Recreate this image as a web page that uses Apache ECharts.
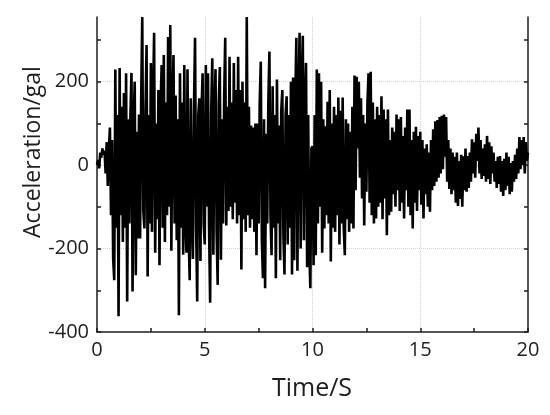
<!DOCTYPE html>
<html>
<head>
<meta charset="utf-8">
<script src="https://cdn.jsdelivr.net/npm/echarts@6/dist/echarts.min.js"></script>
<style>
html,body{margin:0;padding:0;background:#fff;}
#chart{width:550px;height:415px;}
</style>
</head>
<body>
<div id="chart"></div>
<script>
// Sampling step of the record (s)
var dt = 0.05;
// Acceleration (gal), one row per second
var accel_00_05 = [
  0, 12, -8, 30, 18, 40, 25, 35, -20, 55, -50, 40, 90, -120, 60, -224, -276, 229, -150, 120,
  -362, 233, -120, 140, -184, 173, -150, 220, -327, 110, -140, 121, 221, -303, 100, 200, -264, 80, -176, 121,
  -176, 160, 355, -110, -152, 130, 288, -267, 120, -140, 245, -160, 150, 317, -210, 100, -130, 180, -240, 140,
  240, -150, 264, -184, 150, -120, 307, -100, 336, -205, 130, 264, -140, 167, -180, 110, -360, 220, -150, 150,
  -215, 240, -130, -210, 230, -160, -276, 160, -120, -225, 140, 305, -150, -327, 120, 160, -230, 130, 220, -140
];
var accel_05_10 = [
  -190, 240, -100, 220, -150, -330, 130, 256, -215, 120, 230, -160, -287, 150, 235, -227, 110, -140, 160, 305,
  -145, 140, -110, 260, -100, 150, -130, 245, -90, 180, -140, 260, -120, 180, -250, 200, -130, 150, -160, 355,
  -120, 140, -150, 95, -130, 90, -160, 100, -216, 100, -140, 150, 248, -180, -271, 110, -295, 75, -140, 150,
  272, -120, -216, 189, -150, 120, -271, 205, -140, 95, -228, 130, 180, -170, -262, 120, 165, -190, 120, -150,
  200, -262, 210, -228, 150, 305, -253, 140, 317, -200, 200, 310, -180, 150, 245, -245, 120, -200, -295, 40
];
var accel_10_15 = [
  45, -240, 120, -216, 229, -140, 220, -100, 200, -210, 110, -152, 93, -120, 152, -140, 180, -231, 100, -150,
  140, -160, 120, -120, 162, -190, 130, -140, 162, -150, -216, 110, -130, 100, -160, 80, -140, 140, -152, 215,
  -60, 212, 40, 200, -30, 160, -80, 120, -145, 100, -64, 150, 220, -90, 224, -120, 150, -140, 110, -128,
  140, -100, 120, -90, 165, -130, 133, -80, 110, -168, 133, -120, 60, -112, 90, -70, 80, -100, 121, -60,
  110, -110, 115, -90, 70, -128, 90, -60, 133, -100, 133, -120, 60, -152, 80, -90, 92, -110, 70, -60
];
var accel_15_20 = [
  80, -95, 60, -128, 40, -70, 50, -100, 30, -112, 60, -60, 86, -50, 105, -40, 108, -30, 115, -20,
  118, -10, 121, 20, 115, -40, 60, -57, 40, -70, 30, -60, 20, -90, 30, -98, 10, -81, 25, -100,
  21, -60, 40, -64, 22, -55, 30, -40, 62, -20, 55, -30, 75, 10, 90, -20, 60, -33, 40, -26,
  50, -40, 70, -33, 55, -45, 45, -20, 30, -40, 10, -55, 20, -45, 22, -64, 10, -74, 15, -60,
  30, -50, 20, -70, 5, -64, 10, -40, 25, -33, 40, -20, 67, -10, 60, 0, 67, -20, 55, 10,
  30
];
// Axis ticks and labels
var yTicks = [-400, -300, -200, -100, 0, 100, 200, 300];
var yLabels = [-400, -200, 0, 200];
var xLabels = [0, 5, 10, 15, 20];

var accel = accel_00_05.concat(accel_05_10, accel_10_15, accel_15_20);
var seriesData = accel.map(function (v, i) { return [Math.round(i * dt * 100) / 100, v]; });

var font = 'Open Sans';
var ink = '#1e1e1e';
var gridStyle = {type: 'dotted', color: '#d2d2d2', width: 1};
var chart = echarts.init(document.getElementById('chart'), null, {renderer: 'canvas'});
chart.setOption({
  animation: false,
  backgroundColor: '#ffffff',
  grid: {left: 97, right: 22, top: 17, bottom: 83},
  xAxis: [
    {
      type: 'value', min: 0, max: 20, interval: 2.5, position: 'bottom',
      axisLine: {show: true, onZero: false, lineStyle: {color: ink, width: 1.5}},
      axisTick: {show: true, inside: true, length: 4, lineStyle: {color: ink, width: 1.5}},
      axisLabel: {customValues: xLabels, fontSize: 20, color: ink, fontFamily: font, margin: 8},
      splitLine: {show: false}
    },
    {
      type: 'value', min: 0, max: 20, interval: 5, position: 'bottom',
      axisLine: {show: false}, axisTick: {show: false}, axisLabel: {show: false},
      splitLine: {show: true, showMinLine: false, showMaxLine: false, lineStyle: gridStyle}
    }
  ],
  yAxis: [
    {
      type: 'value', min: -400, max: 355, interval: 100, position: 'left',
      axisLine: {show: true, onZero: false, lineStyle: {color: ink, width: 1.5}},
      axisTick: {show: true, inside: true, length: 4, customValues: yTicks, lineStyle: {color: ink, width: 1.5}},
      axisLabel: {customValues: yLabels, fontSize: 20, color: ink, fontFamily: font, margin: 8},
      splitLine: {show: false}
    },
    {
      type: 'value', min: -400, max: 355, interval: 100, position: 'right',
      axisLine: {show: true, onZero: false, lineStyle: {color: ink, width: 1.5}},
      axisTick: {show: true, inside: true, length: 4, customValues: yTicks, lineStyle: {color: ink, width: 1.5}},
      axisLabel: {show: false},
      splitLine: {show: false}
    },
    {
      type: 'value', min: -400, max: 355, interval: 200, position: 'left',
      axisLine: {show: false}, axisTick: {show: false}, axisLabel: {show: false},
      splitLine: {show: true, showMinLine: false, showMaxLine: false, lineStyle: gridStyle}
    }
  ],
  graphic: [
    {type: 'text', x: 33, y: 152, rotation: Math.PI / 2,
     style: {text: 'Acceleration/gal', fontSize: 23, fontFamily: font, fill: ink, align: 'center', verticalAlign: 'middle'}},
    {type: 'text', x: 312, y: 389,
     style: {text: 'Time/S', fontSize: 25, fontFamily: font, fill: ink, align: 'center', verticalAlign: 'middle'}}
  ],
  series: [{
    type: 'line', xAxisIndex: 0, yAxisIndex: 0,
    data: seriesData, showSymbol: false, symbol: 'none',
    lineStyle: {color: '#000', width: 2.6, join: 'miter', miterLimit: 2}, z: 3
  }]
});
</script>
</body>
</html>
